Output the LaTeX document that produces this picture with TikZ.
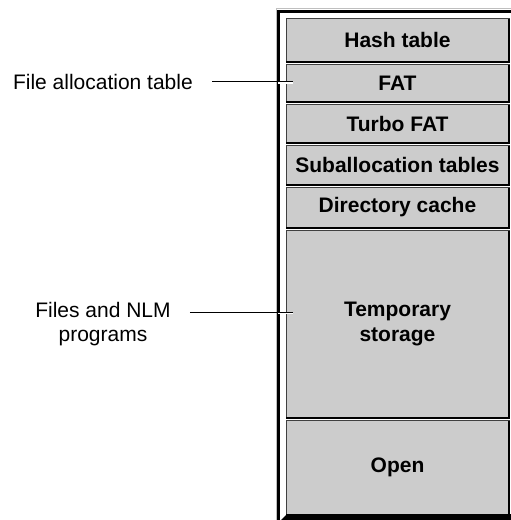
\documentclass[tikz,border=0pt]{standalone}
\usepackage{fontspec}
\setmainfont{Liberation Sans}
\usetikzlibrary{positioning}

\begin{document}
\begin{tikzpicture} [
	x=1pt, y=-1pt,
	node distance = 3pt,
	membox/.style = {draw=black!75, line width=1pt, fill=black!20, minimum width=223pt, inner sep=0pt, outer sep=0pt, align=center, font=\fontsize{21}{25}\selectfont\bfseries},
	boxshadow/.style = {draw=black, line width=2pt},
	frame/.style = {draw=black, line width=3pt},
	lbl/.style = {inner xsep=19pt, inner ysep=0pt, align=center, font=\fontsize{21}{24}\selectfont},
	leader/.style = {draw=black, line width=1pt},
	halo/.style = {draw=white, line width=1.5pt}
]
\useasboundingbox (0,0) rectangle (511,520);
\draw [gray!50, line width=0.8pt] (276,520) -- (276,8.5) -- (511,8.5);
\draw [frame] (278.5,520) -- (278.5,11) -- (511,11);

\node [membox, minimum height=43pt] (hash) at (397.5,40) {Hash table};
\node [membox, minimum height=37pt, below=of hash] (fat) {FAT};
\node [membox, minimum height=38pt, below=of fat] (turbo) {Turbo FAT};
\node [membox, minimum height=39pt, below=of turbo] (suballoc) {Suballocation tables};
\node [membox, minimum height=40pt, below=of suballoc] (dircache) {Directory cache};
\node [membox, minimum height=187pt, below=of dircache] (temp) {Temporary\\storage};
\node [membox, minimum height=94pt, below=of temp] (open) {Open};
\foreach \n in {hash,fat,turbo,suballoc,dircache,temp,open}
	\draw [boxshadow] (\n.south west) -- (\n.south east) -- (\n.north east);
\fill (281,520) -- (287,514) -- (511,514) -- (511,520) -- cycle;

\node [lbl, anchor=east] (fatlbl) at (212,81.5) {File allocation table};
\coordinate (fatend) at (293,81.5);
\coordinate (fathalo) at (278,83);
\draw [halo] (fathalo) -- (fathalo -| fatend);
\draw [leader] (fatlbl) -- (fatend);

\node [lbl] (nlmlbl) at (103,324.5) {Files and NLM\\programs};
\coordinate (nlmend) at (293,312);
\coordinate (nlmhalo) at (278,313.5);
\draw [halo] (nlmhalo) -- (nlmhalo -| nlmend);
\draw [leader] (nlmlbl.east |- nlmend) -- (nlmend);
\end{tikzpicture}
\end{document}
